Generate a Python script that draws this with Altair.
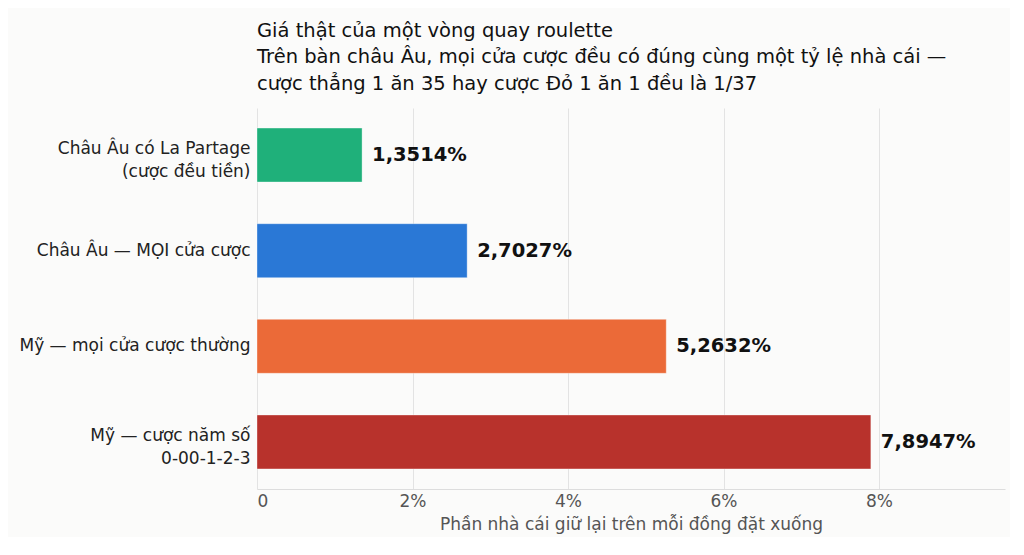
import altair as alt
import pandas as pd

categories = [
    "Châu Âu có La Partage|(cược đều tiền)",
    "Châu Âu — MỌI cửa cược",
    "Mỹ — mọi cửa cược thường",
    "Mỹ — cược năm số|0-00-1-2-3",
]
values = [1.3514, 2.7027, 5.2632, 7.8947]
labels = ["1,3514%", "2,7027%", "5,2632%", "7,8947%"]
colors = ["#1fb07a", "#2a78d6", "#eb6a38", "#b8322c"]

df = pd.DataFrame({"cat": categories, "val": values, "lab": labels, "col": colors})

FONT = "DejaVu Sans"

x = alt.X(
    "val:Q",
    scale=alt.Scale(domain=[0, 9.62], nice=False),
    axis=alt.Axis(
        values=[0, 2, 4, 6, 8],
        labelExpr="datum.value == 0 ? '0' : datum.value + '%'",
        title="Phần nhà cái giữ lại trên mỗi đồng đặt xuống",
        titleFont=FONT, titleFontSize=17, titleFontWeight="normal", titleColor="#555555",
        labelFont=FONT, labelFontSize=17, labelColor="#555555",
        grid=True, gridColor="#e3e3e3", domainColor="#dddddd", ticks=False,
        labelPadding=4, titlePadding=7,
    ),
)
y = alt.Y(
    "cat:N",
    sort=categories,
    scale=alt.Scale(paddingInner=0.436, paddingOuter=0.21),
    axis=alt.Axis(
        title=None, labelExpr="split(datum.label, '|')",
        labelFont=FONT, labelFontSize=17, labelColor="#222222", labelLineHeight=23,
        labelOffset={"condition": {"test": "indexof(datum.value, '|') >= 0", "value": -6}, "value": 0},
        domain=False, ticks=False, grid=False, labelPadding=7,
        minExtent=244, maxExtent=244, labelLimit=300,
    ),
)

bars = alt.Chart(df).mark_bar(stroke="#ffffff", strokeOpacity=0.35, strokeWidth=1).encode(
    x=x, y=y, color=alt.Color("col:N", scale=None)
)
text = alt.Chart(df).mark_text(
    align="left", baseline="middle", dx=10, font=FONT, fontSize=19.5, fontWeight="bold", color="#111111"
).encode(x="val:Q", y=alt.Y("cat:N", sort=categories), text="lab:N")

chart = (
    alt.layer(bars, text)
    .properties(
        width=748,
        height=381,
        background="#fbfbfa",
        padding={"top": 12, "left": 5, "right": 5, "bottom": 5},
        title=alt.TitleParams(
            text=[
                "Giá thật của một vòng quay roulette",
                "Trên bàn châu Âu, mọi cửa cược đều có đúng cùng một tỷ lệ nhà cái —",
                "cược thẳng 1 ăn 35 hay cược Đỏ 1 ăn 1 đều là 1/37",
            ],
            anchor="start", frame="group", font=FONT, fontSize=19.5, fontWeight="normal", color="#111111",
            lineHeight=26.5, offset=14,
        ),
    )
    .configure_view(stroke=None)
)

chart.save("out.html", embed_options={"renderer": "svg", "actions": False})
